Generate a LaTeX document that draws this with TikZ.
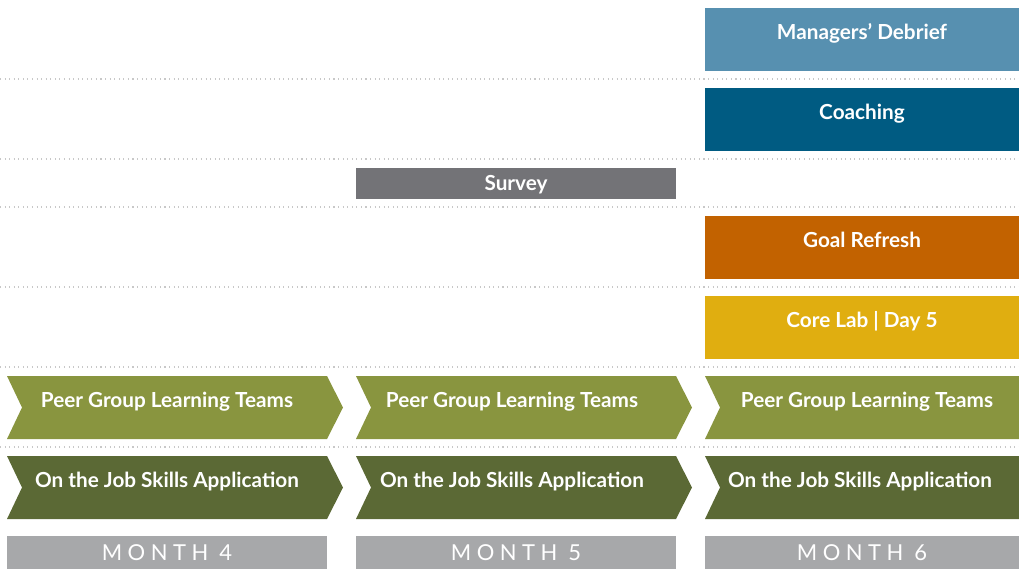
\documentclass[tikz,border=0pt]{standalone}
\usepackage{fontspec}
\setmainfont{Lato}
\newfontfamily\monthfont[LetterSpace=25]{Lato}
\usepackage{xcolor}

\definecolor{debrief}{HTML}{5790B0}
\definecolor{coach}{HTML}{005B82}
\definecolor{survey}{HTML}{737377}
\definecolor{goal}{HTML}{C26200}
\definecolor{corelab}{HTML}{E0AE10}
\definecolor{peergreen}{HTML}{89953F}
\definecolor{jobgreen}{HTML}{5B6935}
\definecolor{monthgray}{HTML}{A7A8AA}
\definecolor{rule}{HTML}{C8C8C8}

\begin{document}
\begin{tikzpicture}[x=0.02cm,y=-0.02cm,font=\bfseries\fontsize{11.8}{13}\selectfont,
  tall/.style={minimum width=6.28cm,minimum height=1.26cm,inner sep=0pt,
    text=white,text height=8pt,text depth=8pt},
  thin/.style={minimum width=6.4cm,minimum height=0.62cm,inner sep=0pt,
    text=white,text height=8.5pt,text depth=0pt},
  chevtext/.style={text=white,inner sep=0pt,text height=8pt,text depth=8pt},
  monthbox/.style={fill=monthgray,minimum width=6.4cm,minimum height=0.66cm,inner sep=0pt,
    text=white,text height=9pt,text depth=0pt,font=\monthfont\fontsize{12.5}{14}\selectfont},
  sep/.style={rule,dotted,line width=0.6pt}]
\useasboundingbox (0,0) rectangle (1019,569);

% row separators
\foreach \y in {79,159,207,287,367,447}
  \draw[sep] (0,\y) -- (1019,\y);

% month 6 activities
\node[tall,fill=debrief] (debrief) at (862,39.5) {Managers’ Debrief};
\node[tall,fill=coach] (coaching) at (862,119.5) {Coaching};
\node[thin,fill=survey] (survey) at (516,183.5) {Survey};
\node[tall,fill=goal] (goal) at (862,247.5) {Goal Refresh};
\node[tall,fill=corelab] (corelab) at (862,327.5) {Core Lab | Day 5};

% arrows for the ongoing tracks
\foreach \x in {7,356} {
  \fill[peergreen] (\x,376) -- (\x+320,376) -- (\x+336,407.5) -- (\x+320,439)
    -- (\x,439) -- (\x+15,407.5) -- cycle;
  \fill[jobgreen] (\x,456) -- (\x+320,456) -- (\x+336,487.5) -- (\x+320,519)
    -- (\x,519) -- (\x+15,487.5) -- cycle;
}
\fill[peergreen] (705,376) -- (1019,376) -- (1019,439) -- (705,439) -- (720,407.5) -- cycle;
\fill[jobgreen] (705,456) -- (1019,456) -- (1019,519) -- (705,519) -- (720,487.5) -- cycle;

\node[chevtext] (peer4) at (167,407.5) {Peer Group Learning Teams};
\node[chevtext] (peer5) at (512,407.5) {Peer Group Learning Teams};
\node[chevtext] (peer6) at (867,407.5) {Peer Group Learning Teams};
\node[chevtext] (job4) at (167,487.5) {On the Job Skills Application};
\node[chevtext] (job5) at (512,487.5) {On the Job Skills Application};
\node[chevtext] (job6) at (860,487.5) {On the Job Skills Application};

% month labels
\node[monthbox] (month4) at (167,552.5) {MONTH 4};
\node[monthbox] (month5) at (516,552.5) {MONTH 5};
\node[monthbox,minimum width=6.28cm] (month6) at (862,552.5) {MONTH 6};
\end{tikzpicture}
\end{document}
